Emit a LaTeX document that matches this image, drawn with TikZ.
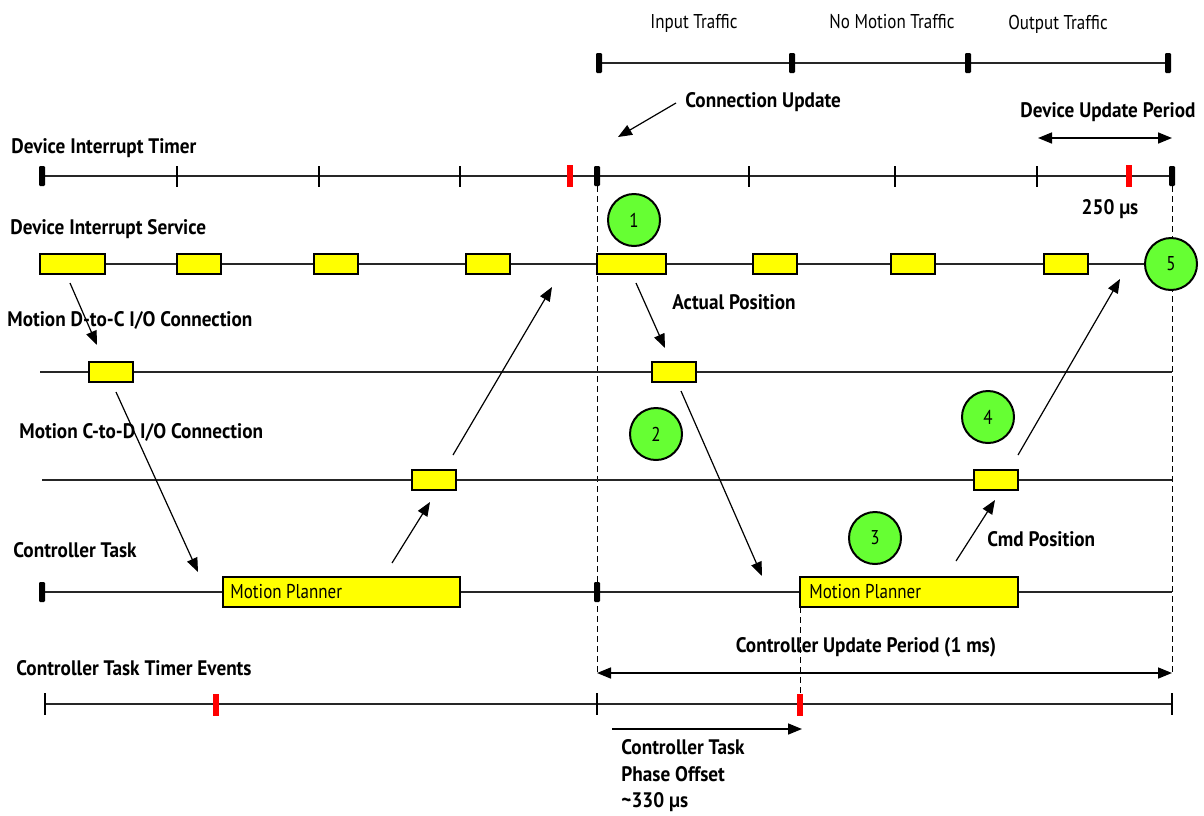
\documentclass[tikz,border=0pt]{standalone}
\usepackage{fontspec}
\setmainfont[FakeStretch=0.85]{PT Sans}
\newfontfamily\lblfont[FakeStretch=0.915]{PT Sans}
\usetikzlibrary{arrows.meta}
\definecolor{slotyellow}{HTML}{FFFF00}
\definecolor{stepgreen}{HTML}{66FF33}
\definecolor{evred}{HTML}{FF0000}
\tikzset{
  tline/.style={line width=0.7pt, draw=black!85},
  lbl/.style={font=\lblfont\fontsize{10.5}{12}\selectfont\bfseries, anchor=base west, inner sep=0pt},
  blbl/.style={font=\lblfont\fontsize{10.5}{12}\selectfont\bfseries, anchor=base, inner sep=0pt},
  plbl/.style={font=\fontsize{10}{12}\selectfont, anchor=base, inner sep=0pt},
  mptext/.style={font=\fontsize{10}{12}\selectfont, anchor=base west, inner sep=0pt},
  slot/.style={draw, line width=1pt, fill=slotyellow, inner sep=0pt, outer sep=0pt, minimum height=10pt},
  planner/.style={draw, line width=1pt, fill=slotyellow, inner sep=0pt, outer sep=0pt, minimum height=15pt},
  stepcirc/.style={circle, draw, line width=1pt, fill=stepgreen, inner sep=0pt, minimum size=26pt, font=\fontsize{10}{12}\selectfont},
  bartick/.style={fill=black, inner sep=0pt, outer sep=0pt, minimum width=3pt, minimum height=10pt, rounded corners=0.6pt},
  redtick/.style={fill=evred, inner sep=0pt, outer sep=0pt, minimum width=3pt, minimum height=11pt},
  thintick/.style={line width=0.7pt},
  guide/.style={line width=0.5pt, dash pattern=on 3pt off 2pt},
  flow/.style={line width=0.6pt, -{Triangle[length=7pt,width=5.5pt]}},
  span/.style={line width=0.8pt, {Triangle[length=7pt,width=5.5pt]}-{Triangle[length=7pt,width=5.5pt]}}
}
\begin{document}
\begin{tikzpicture}[x=0.5pt, y=-0.5pt]
\useasboundingbox (0,0) rectangle (1204,815);

% ---- network traffic phases ----
\draw[tline] (599,63) -- (1168,63);
\foreach \x [count=\i] in {599,792,968,1168}
  \node[bartick] (tp\i) at (\x,63) {};
\node[plbl] (inTraffic) at (694,28) {Input Traffic};
\node[plbl] (noTraffic) at (892,28) {No Motion Traffic};
\node[plbl] (outTraffic) at (1058,29) {Output Traffic};

\node[lbl] (connUpd) at (685,107) {Connection Update};
\coordinate (cuFrom) at (676,103);
\coordinate (cuTo) at (618,137);
\draw[flow] (cuFrom) -- (cuTo);

\node[lbl] (devPeriod) at (1020,117) {Device Update Period};
\coordinate (dpA) at (1038,138);
\coordinate (dpB) at (1172,138);
\draw[span] (dpA) -- (dpB);

% ---- dashed guides ----
\coordinate (gLtop) at (597,186);
\coordinate (gLbot) at (597,675);
\coordinate (gRtop) at (1172,186);
\coordinate (gRbot) at (1172,675);
\draw[guide] (gLtop) -- (gLbot);
\draw[guide] (gRtop) -- (gRbot);

% ---- device interrupt timer ----
\node[lbl] (timerLbl) at (11,153) {Device Interrupt Timer};
\draw[tline] (42,176) -- (1172,176);
\foreach \x [count=\i] in {177,319,460,749,895,1037}
  \draw[thintick] (\x,166) -- (\x,187);
\node[bartick] (dt1) at (42,176) {};
\node[bartick] (dt2) at (597,176) {};
\node[bartick] (dt3) at (1172,176) {};
\node[redtick] (dr1) at (570,176) {};
\node[redtick] (dr2) at (1129,176) {};
\node[blbl] (usLbl) at (1110,214) {250 µs};

% ---- device interrupt service ----
\node[lbl] (svcLbl) at (10,234) {Device Interrupt Service};
\node[stepcirc] (c5) at (1171,264) {5};
\draw[tline] (40,264) -- (c5.west);
\node[slot, minimum width=32.5pt] (s1) at (72.75,264) {};
\node[slot, minimum width=22pt] (s2) at (199,264) {};
\node[slot, minimum width=22pt] (s3) at (336,264) {};
\node[slot, minimum width=22pt] (s4) at (487.5,264) {};
\node[slot, minimum width=34.5pt] (s5) at (631.5,264) {};
\node[slot, minimum width=22pt] (s6) at (774.5,264) {};
\node[slot, minimum width=22pt] (s7) at (912.5,264) {};
\node[slot, minimum width=22pt] (s8) at (1065.5,264) {};
\node[stepcirc] (c1) at (634,220) {1};

% ---- motion D-to-C connection ----
\node[lbl] (dcLbl) at (7,326) {Motion D-to-C I/O Connection};
\draw[tline] (40,372) -- (1172,372);
\node[slot, minimum width=22pt] (dc1) at (111,372) {};
\node[slot, minimum width=22pt] (dc2) at (674,372) {};
\node[lbl] (actPos) at (672,309) {Actual Position};

% ---- motion C-to-D connection ----
\node[lbl] (cdLbl) at (19,438) {Motion C-to-D I/O Connection};
\draw[tline] (42,480) -- (1172,480);
\node[slot, minimum width=22pt] (cd1) at (434,480) {};
\node[slot, minimum width=22pt] (cd2) at (996,480) {};
\node[stepcirc] (c2) at (656,434) {2};
\node[stepcirc] (c4) at (988,417) {4};

% ---- controller task ----
\node[lbl] (ctLbl) at (13,557) {Controller Task};
\draw[tline] (42,592) -- (1172,592);
\node[bartick] (ct1) at (42,592) {};
\node[bartick] (ct2) at (597,592) {};
\node[planner, minimum width=118.5pt] (mp1) at (341.5,592) {};
\node[mptext] (mp1t) at (230,598) {Motion Planner};
\draw[guide] (800,607) -- (800,694);
\node[planner, minimum width=109pt] (mp2) at (909,592) {};
\node[mptext] (mp2t) at (809,598) {Motion Planner};
\node[stepcirc] (c3) at (875,538) {3};
\node[lbl] (cmdPos) at (987,546) {Cmd Position};

% ---- controller update period ----
\node[blbl] (cupLbl) at (866,652) {Controller Update Period (1 ms)};
\coordinate (cupA) at (597,673);
\coordinate (cupB) at (1172,673);
\draw[span] (cupA) -- (cupB);

% ---- controller task timer events ----
\node[lbl] (ctteLbl) at (16,675) {Controller Task Timer Events};
\draw[tline] (45,704) -- (1172,704);
\foreach \x in {45,597,1172}
  \draw[thintick] (\x,693) -- (\x,715);
\node[redtick] (er1) at (216,705) {};
\node[redtick] (er2) at (800,705) {};

\coordinate (poA) at (612,729);
\coordinate (poB) at (802,729);
\draw[flow, line width=0.8pt] (poA) -- (poB);
\node[lbl] (po1) at (621,754) {Controller Task};
\node[lbl] (po2) at (621,781) {Phase Offset};
\node[lbl] (po3) at (621,807) {\textasciitilde330 µs};

% ---- data flow arrows ----
\coordinate (f1a) at (70,283);   \coordinate (f1b) at (97,345);
\coordinate (f2a) at (116,392);  \coordinate (f2b) at (198,572);
\coordinate (f3a) at (392,563);  \coordinate (f3b) at (430,502);
\coordinate (f4a) at (453,455);  \coordinate (f4b) at (552,287);
\coordinate (f5a) at (636,283);  \coordinate (f5b) at (665,348);
\coordinate (f6a) at (681,391);  \coordinate (f6b) at (762,576);
\coordinate (f7a) at (956,561);  \coordinate (f7b) at (995,500);
\coordinate (f8a) at (1018,455); \coordinate (f8b) at (1120,279);
\foreach \p in {1,...,8}
  \draw[flow] (f\p a) -- (f\p b);
\end{tikzpicture}
\end{document}
